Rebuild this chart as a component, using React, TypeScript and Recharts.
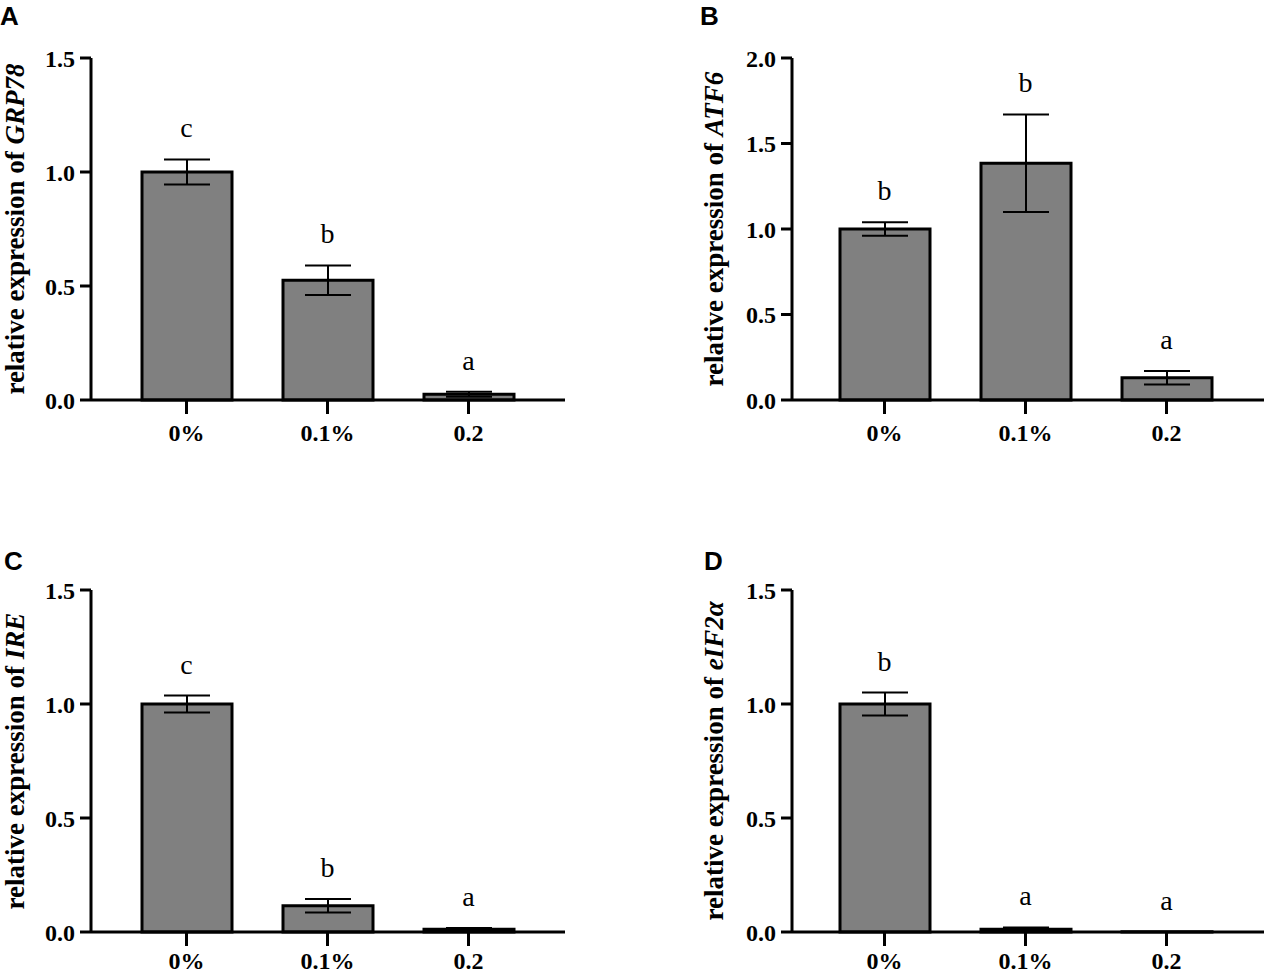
import React from 'react';
import {
  ComposedChart,
  Bar,
  Line,
  ErrorBar,
  LabelList,
  XAxis,
  YAxis,
} from 'recharts';

// treatment groups shared by all four panels
const categories = ['0%', '0.1%', '0.2'];

// A - GRP78
const grp78Mean = [1.0, 0.525, 0.025];
const grp78Sd = [0.055, 0.065, 0.011];
const grp78Letters = ['c', 'b', 'a'];

// B - ATF6
const atf6Mean = [1.0, 1.385, 0.13];
const atf6Sd = [0.04, 0.285, 0.04];
const atf6Letters = ['b', 'b', 'a'];

// C - IRE
const ireMean = [1.0, 0.115, 0.012];
const ireSd = [0.037, 0.03, 0.006];
const ireLetters = ['c', 'b', 'a'];

// D - eIF2α
const eif2aMean = [1.0, 0.012, 0.001];
const eif2aSd = [0.05, 0.008, 0.0];
const eif2aLetters = ['b', 'a', 'a'];

const ticks15 = [0, 0.5, 1.0, 1.5];
const ticks20 = [0, 0.5, 1.0, 1.5, 2.0];

const SERIF = '"Liberation Serif", "Times New Roman", serif';
const SANS = '"Liberation Sans", Arial, sans-serif';

function makeRows(mean: number[], sd: number[], letters: string[]) {
  return categories.map((name, i) => ({
    name,
    mean: mean[i],
    sd: sd[i],
    top: mean[i] + sd[i],
    letter: letters[i],
  }));
}

interface PanelProps {
  left: number;
  top: number;
  width: number;
  height: number;
  marginTop: number;
  marginRight: number;
  marginBottom: number;
  yAxisWidth: number;
  xAxisHeight: number;
  xTickMargin: number;
  padLeft: number;
  padRight: number;
  rows: ReturnType<typeof makeRows>;
  yMax: number;
  yTicks: number[];
}

function Panel(p: PanelProps) {
  const axisStyle = { stroke: '#000', strokeWidth: 3 };
  return (
    <div style={{ position: 'absolute', left: p.left, top: p.top }}>
      <ComposedChart
        width={p.width}
        height={p.height}
        data={p.rows}
        margin={{ top: p.marginTop, right: p.marginRight, bottom: p.marginBottom, left: 0 }}
      >
        <XAxis
          dataKey="name"
          height={p.xAxisHeight}
          padding={{ left: p.padLeft, right: p.padRight }}
          axisLine={axisStyle}
          tickLine={axisStyle}
          tickSize={14}
          tickMargin={p.xTickMargin}
          interval={0}
          tick={{ fill: '#000', fontSize: 24, fontWeight: 'bold', fontFamily: SERIF }}
        />
        <YAxis
          width={p.yAxisWidth}
          domain={[0, p.yMax]}
          ticks={p.yTicks}
          interval={0}
          axisLine={axisStyle}
          tickLine={axisStyle}
          tickSize={11}
          tickMargin={5}
          tickFormatter={(v: number) => v.toFixed(1)}
          tick={{ fill: '#000', fontSize: 24, fontWeight: 'bold', fontFamily: SERIF }}
        />
        <Bar
          dataKey="mean"
          barSize={90}
          fill="#808080"
          stroke="#000"
          strokeWidth={3}
          isAnimationActive={false}
        >
          <ErrorBar dataKey="sd" width={23} stroke="#000" strokeWidth={2} direction="y" />
        </Bar>
        <Line
          dataKey="top"
          stroke="none"
          dot={false}
          activeDot={false}
          legendType="none"
          isAnimationActive={false}
        >
          <LabelList
            dataKey="letter"
            position="top"
            offset={22}
            fill="#000"
            fontSize={28}
            fontFamily={SERIF}
          />
        </Line>
      </ComposedChart>
    </div>
  );
}

function YTitle({ x, y, gene }: { x: number; y: number; gene: string }) {
  return (
    <text
      x={x}
      y={y}
      transform={`rotate(-90 ${x} ${y})`}
      textAnchor="middle"
      fontFamily={SERIF}
      fontWeight="bold"
      fontSize={27}
      fill="#000"
    >
      relative expression of <tspan fontStyle="italic">{gene}</tspan>
    </text>
  );
}

export default function App() {
  const top = { marginTop: 58, marginBottom: 20, xAxisHeight: 60, height: 480, xTickMargin: 10 };
  const bottom = { marginTop: 110, marginBottom: 0, xAxisHeight: 43, height: 495, xTickMargin: 6 };
  const leftCol = { width: 640, marginRight: 75, yAxisWidth: 91, padLeft: 25, padRight: 26 };
  const rightCol = { width: 565, marginRight: 1, yAxisWidth: 92, padLeft: 22, padRight: 27 };

  return (
    <div
      style={{
        position: 'absolute',
        left: 0,
        top: 0,
        width: 1265,
        height: 975,
        background: '#fff',
        overflow: 'hidden',
      }}
    >
      <Panel left={0} top={0} {...top} {...leftCol}
        rows={makeRows(grp78Mean, grp78Sd, grp78Letters)} yMax={1.5} yTicks={ticks15} />
      <Panel left={700} top={0} {...top} {...rightCol}
        rows={makeRows(atf6Mean, atf6Sd, atf6Letters)} yMax={2.0} yTicks={ticks20} />
      <Panel left={0} top={480} {...bottom} {...leftCol}
        rows={makeRows(ireMean, ireSd, ireLetters)} yMax={1.5} yTicks={ticks15} />
      <Panel left={700} top={480} {...bottom} {...rightCol}
        rows={makeRows(eif2aMean, eif2aSd, eif2aLetters)} yMax={1.5} yTicks={ticks15} />

      <svg
        width={1265}
        height={975}
        style={{ position: 'absolute', left: 0, top: 0, pointerEvents: 'none' }}
      >
        <g fontFamily={SANS} fontWeight="bold" fontSize={26} fill="#000">
          <text x={0} y={25}>A</text>
          <text x={700} y={25}>B</text>
          <text x={4} y={570}>C</text>
          <text x={704} y={570}>D</text>
        </g>
        <YTitle x={24} y={229} gene="GRP78" />
        <YTitle x={723} y={229} gene="ATF6" />
        <YTitle x={24} y={761} gene="IRE" />
        <YTitle x={723} y={761} gene="eIF2α" />
      </svg>
    </div>
  );
}
